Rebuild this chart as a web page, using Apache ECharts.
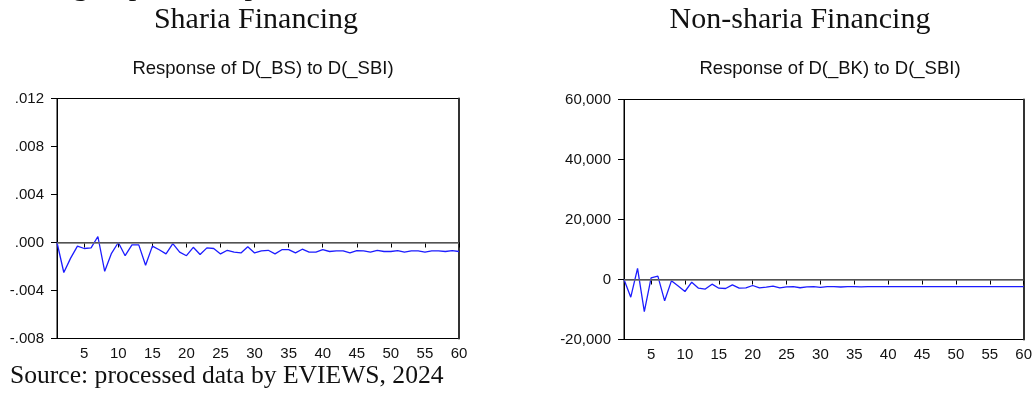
<!DOCTYPE html>
<html>
<head>
<meta charset="utf-8">
<script src="https://cdn.jsdelivr.net/npm/echarts@6/dist/echarts.min.js"></script>
<style>
html,body{margin:0;padding:0;background:#fff;}
#c{width:1035px;height:397px;}
</style>
</head>
<body>
<div id="c"></div>
<script>
// ---- data ----
const periods = Array.from({length: 60}, (_, i) => i + 1);
const xTicks = [5, 10, 15, 20, 25, 30, 35, 40, 45, 50, 55, 60];
const bsResponse = [
  0.0000, -0.0025, -0.0013, -0.0003, -0.0005, -0.00045, 0.0005, -0.0024, -0.0009, 0.0000,
  -0.0011, -0.0002, -0.0002, -0.0019, -0.0003, -0.0006, -0.00095, -0.0001, -0.0008, -0.0011,
  -0.0004, -0.0010, -0.00045, -0.0005, -0.00095, -0.00065, -0.0008, -0.00087, -0.00036, -0.00087,
  -0.0007, -0.00065, -0.00095, -0.0006, -0.0006, -0.00087, -0.00056, -0.0008, -0.0008, -0.0006,
  -0.00075, -0.0007, -0.0007, -0.00087, -0.00067, -0.0007, -0.0008, -0.00065, -0.00075, -0.00075,
  -0.00067, -0.0008, -0.0007, -0.0007, -0.0008, -0.0007, -0.0007, -0.00075, -0.00067, -0.00075
];
const bkResponse = [
  0, -5900, 3700, -10700, 550, 1100, -7100, -450, -2200, -4000,
  -900, -2900, -3200, -1550, -2900, -3000, -1800, -2900, -2800, -2000,
  -2800, -2550, -2200, -2800, -2450, -2350, -2750, -2450, -2400, -2600,
  -2350, -2400, -2500, -2350, -2400, -2450, -2350, -2400, -2400, -2350,
  -2400, -2400, -2380, -2400, -2400, -2380, -2400, -2400, -2380, -2400,
  -2400, -2380, -2400, -2400, -2400, -2380, -2400, -2400, -2400, -2400
];
const leftYTicks = {min: -0.008, max: 0.012, interval: 0.004};
const rightYTicks = {min: -20000, max: 60000, interval: 20000};
const leftTitle = 'Response of D(_BS) to D(_SBI)';
const rightTitle = 'Response of D(_BK) to D(_SBI)';
const leftHeading = 'Sharia Financing';
const rightHeading = 'Non-sharia Financing';
const sourceNote = 'Source: processed data by EVIEWS, 2024';
const cutHeading = 'Testing Impulse Response';

// ---- chart ----
const sans = '"Liberation Sans", Arial, sans-serif';
const serif = '"Liberation Serif", "Times New Roman", serif';
const chart = echarts.init(document.getElementById('c'), null, {renderer: 'canvas'});

function fmtLeft(v) {
  const s = Math.abs(v).toFixed(3).replace(/^0/, '');
  return (v < -1e-9 ? '-' : '') + s;
}
function fmtRight(v) {
  const n = Math.round(v);
  return n.toLocaleString('en-US');
}
function xAxis(gi) {
  return {
    type: 'value', gridIndex: gi, min: 1, max: 60,
    axisLine: {lineStyle: {color: '#000', width: 1}},
    axisTick: {customValues: xTicks, length: 5, lineStyle: {color: '#000'}},
    axisLabel: {customValues: xTicks, margin: 8, color: '#111', fontFamily: sans, fontSize: 15},
    splitLine: {show: false}
  };
}
function yAxis(gi, t, fmt) {
  return {
    type: 'value', gridIndex: gi, min: t.min, max: t.max, interval: t.interval,
    axisLine: {show: true, lineStyle: {color: '#000', width: 1}},
    axisTick: {show: true, length: 6, lineStyle: {color: '#000'}},
    axisLabel: {margin: 13, color: '#111', fontFamily: sans, fontSize: 15, formatter: fmt},
    splitLine: {show: false}
  };
}
function rightEdge(gi, t) {
  return {
    type: 'value', gridIndex: gi, position: 'right', min: t.min, max: t.max, interval: t.interval,
    axisLine: {show: true, lineStyle: {color: '#333', width: 2}},
    axisTick: {show: false}, axisLabel: {show: false}, splitLine: {show: false}
  };
}
function zeroLine() {
  return {
    silent: true, symbol: 'none', label: {show: false},
    lineStyle: {color: '#6e6e6e', width: 1.6, type: 'solid'},
    data: [{yAxis: 0}]
  };
}

chart.setOption({
  animation: false,
  backgroundColor: '#fff',
  title: [
    {text: leftTitle, left: 258, top: 54, textAlign: 'center',
     textStyle: {fontFamily: sans, fontSize: 18.5, fontWeight: 'normal', color: '#111'}},
    {text: rightTitle, left: 825, top: 54, textAlign: 'center',
     textStyle: {fontFamily: sans, fontSize: 18.5, fontWeight: 'normal', color: '#111'}}
  ],
  graphic: [
    {type: 'text', x: 0, y: -13, style: {text: cutHeading, font: '30px ' + serif, fill: '#111', textAlign: 'left', textVerticalAlign: 'middle'}},
    {type: 'text', x: 256, y: 20, style: {text: leftHeading, font: '30px ' + serif, fill: '#111', textAlign: 'center', textVerticalAlign: 'middle'}},
    {type: 'text', x: 800, y: 20, style: {text: rightHeading, font: '30px ' + serif, fill: '#111', textAlign: 'center', textVerticalAlign: 'middle'}},
    {type: 'text', x: 10, y: 376, style: {text: sourceNote, font: '25.6px ' + serif, fill: '#111', textAlign: 'left', textVerticalAlign: 'middle'}}
  ],
  grid: [
    {left: 57, top: 98.5, width: 402, height: 240, show: true, borderColor: '#000', borderWidth: 1, backgroundColor: 'transparent'},
    {left: 624, top: 99.5, width: 402, height: 240, show: true, borderColor: '#000', borderWidth: 1, backgroundColor: 'transparent'}
  ],
  xAxis: [xAxis(0), xAxis(1)],
  yAxis: [yAxis(0, leftYTicks, fmtLeft), yAxis(1, rightYTicks, fmtRight), rightEdge(0, leftYTicks), rightEdge(1, rightYTicks)],
  series: [
    {type: 'line', xAxisIndex: 0, yAxisIndex: 0, showSymbol: false, symbol: 'none',
     lineStyle: {color: '#1c1cff', width: 1.3}, data: periods.map((p, i) => [p, bsResponse[i]]),
     markLine: zeroLine(), z: 3},
    {type: 'line', xAxisIndex: 1, yAxisIndex: 1, showSymbol: false, symbol: 'none',
     lineStyle: {color: '#1c1cff', width: 1.3}, data: periods.map((p, i) => [p, bkResponse[i]]),
     markLine: zeroLine(), z: 3}
  ]
});
</script>
</body>
</html>
